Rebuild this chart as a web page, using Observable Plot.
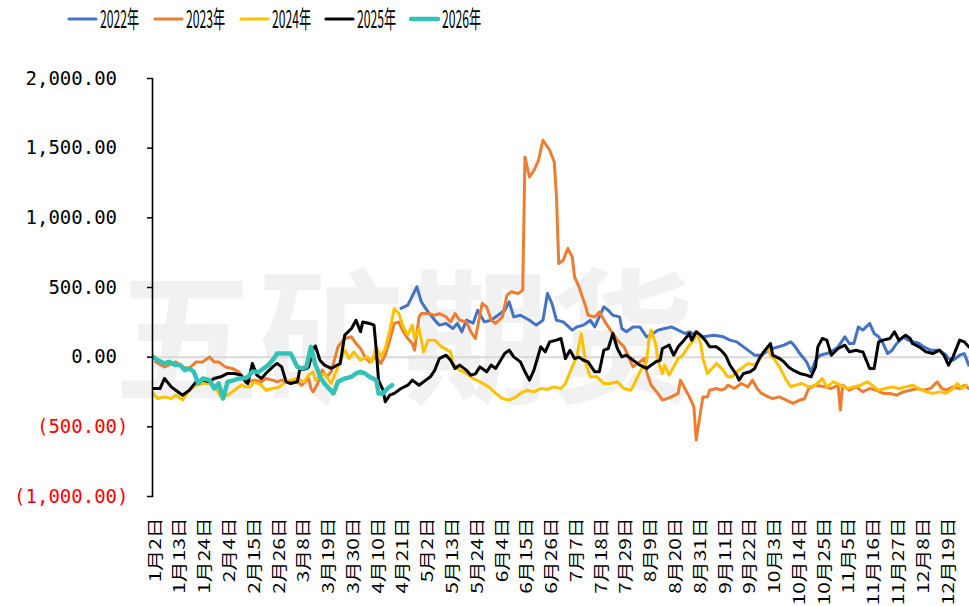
<!DOCTYPE html>
<html><head><meta charset="utf-8">
<script src="https://cdn.jsdelivr.net/npm/d3@7"></script>
<script src="https://cdn.jsdelivr.net/npm/@observablehq/plot@0.6"></script>
<style>
body{margin:0;background:#fff;}
#chart svg{display:block;}
g[aria-label="y-axis tick label"]{font-family:"DejaVu Sans Mono",monospace;}
</style></head><body>
<div id="chart"></div>
<script>
// ---- data ----
const seriesNames = ["2022年","2023年","2024年","2025年","2026年"];
const seriesColors = ["#4472C4","#ED7D31","#FFC000","#000000","#33C2B5"];
const seriesWidths = [3,3,3,3,4.5];

// day-of-year positions (leap-year calendar) of x tick labels
const xTickDays = [2,13,24,35,46,57,68,79,90,101,112,123,134,145,156,167,178,189,200,211,222,233,244,255,266,277,288,299,310,321,332,343,354];
const xTickLabels = ["1月2日","1月13日","1月24日","2月4日","2月15日","2月26日","3月8日","3月19日","3月30日","4月10日","4月21日","5月2日","5月13日","5月24日","6月4日","6月15日","6月26日","7月7日","7月18日","7月29日","8月9日","8月20日","8月31日","9月11日","9月22日","10月3日","10月14日","10月25日","11月5日","11月16日","11月27日","12月8日","12月19日"];
const yTicks = [-1000,-500,0,500,1000,1500,2000];

const days2022 = [111,114,118,120,123,126,128,131,134,136,138,140,143,145,148,151,154,157,159,161,164,168,171,174,176,178,180,183,187,189,192,195,197,201,203,205,208,209,211,214,217,220,222,225,228,231,234,237,239,242,245,250,254,257,260,263,266,268,271,274,276,281,284,286,288,291,293,295,297,300,303,305,308,310,312,314,316,319,321,323,325,327,329,331,334,336,341,343,346,350,353,354,356,359,361,363];
const vals2022 = [350,373,505,397,325,265,230,242,206,242,182,265,244,337,253,265,301,337,397,289,301,265,230,265,457,385,265,253,194,217,230,265,217,361,337,301,289,206,182,217,217,146,158,194,206,217,194,170,182,158,146,158,146,122,110,74,38,14,14,50,62,86,110,74,26,-34,-105,-22,14,26,50,74,146,98,98,217,194,242,170,146,98,26,50,98,146,122,98,74,50,50,14,-10,-22,14,26,-57];

const days2023 = [2,6,11,14,17,20,23,26,28,30,33,36,39,41,43,46,49,51,54,56,58,61,64,67,70,71,72,74,76,78,80,83,86,89,91,93,95,97,100,102,104,106,108,110,112,114,116,117,119,120,123,126,128,131,133,135,137,140,142,144,147,149,151,153,156,158,160,163,165,166,168,170,172,174,177,179,180,181,183,185,187,188,190,191,193,194,197,199,202,204,207,210,212,214,216,219,220,222,225,227,229,231,234,235,237,239,241,242,245,247,248,251,253,255,256,259,262,265,267,269,271,274,276,279,282,285,288,290,292,295,299,302,305,306,307,310,313,316,319,322,325,328,331,334,337,340,343,346,349,351,353,356,359,361,363];
const vals2023 = [-34,-70,-34,-70,-81,-34,-34,2,-34,-34,-70,-81,-105,-153,-177,-165,-177,-153,-165,-177,-165,-177,-165,-201,-153,-225,-249,-189,-93,-141,-105,74,134,146,98,62,2,-34,2,-45,14,122,242,253,182,134,98,50,289,313,313,301,313,289,253,313,265,253,182,134,385,361,265,242,289,445,469,457,481,1437,1293,1341,1413,1557,1485,1401,1150,672,696,780,720,576,504,457,361,301,289,325,242,194,122,74,2,-70,-45,-10,-105,-201,-260,-308,-297,-285,-260,-165,-225,-285,-357,-595,-285,-285,-237,-225,-237,-225,-201,-225,-189,-213,-165,-225,-260,-285,-297,-285,-308,-332,-308,-300,-225,-201,-213,-225,-201,-380,-201,-237,-213,-249,-225,-237,-260,-260,-273,-249,-237,-225,-237,-225,-177,-225,-237,-213,-225,-201,-225];

const days2024 = [1,3,6,9,11,14,17,20,23,26,28,31,34,37,40,42,44,46,49,51,54,57,60,62,65,68,70,72,73,75,77,80,83,86,88,90,93,96,98,100,102,104,106,108,110,112,114,116,117,119,121,123,126,129,133,134,137,140,143,146,150,153,156,159,162,164,167,170,173,176,179,182,184,187,189,191,193,195,198,201,204,207,210,213,215,217,220,221,222,224,225,227,228,230,234,236,239,241,242,244,245,247,249,251,254,256,258,260,263,265,268,270,272,274,275,277,279,282,284,286,289,292,295,298,300,303,306,309,312,315,318,321,323,326,329,332,335,338,341,344,347,350,353,356,358,360,362];
const vals2024 = [-260,-297,-285,-297,-273,-308,-237,-201,-189,-189,-201,-285,-273,-237,-201,-213,-213,-177,-201,-237,-225,-213,-177,-165,-153,-177,-129,-105,-165,-141,-117,-189,-70,50,-10,38,-22,2,-34,74,2,62,194,349,313,217,160,230,134,206,38,122,122,74,38,-45,-93,-117,-153,-177,-213,-260,-297,-308,-285,-260,-237,-249,-225,-230,-213,-225,-189,-70,2,170,-45,-141,-141,-189,-189,-177,-225,-237,-177,-105,-34,122,194,98,-22,-117,-57,-129,-10,14,86,122,182,98,-10,-117,-81,-45,-93,-141,-141,-105,-70,-45,-57,-22,38,62,14,-22,-70,-165,-213,-201,-189,-213,-201,-153,-213,-177,-201,-225,-213,-201,-177,-213,-237,-225,-213,-225,-213,-201,-225,-249,-260,-249,-260,-225,-189,-225,-201];

const days2025 = [1,4,6,9,11,14,17,20,23,26,28,31,34,37,40,42,43,45,47,49,51,54,56,58,60,62,65,66,69,70,72,73,75,77,80,84,86,89,91,93,94,97,99,100,101,103,104,106,108,111,114,116,119,122,124,126,128,131,133,135,137,140,142,144,146,149,151,153,157,159,161,164,166,168,170,173,175,177,180,182,184,186,188,190,192,194,197,199,201,203,205,207,209,211,213,215,217,220,222,224,226,227,230,232,234,236,239,240,242,244,246,248,251,253,255,257,260,261,263,266,268,270,272,275,276,279,281,283,285,288,291,293,295,296,298,300,302,305,308,310,313,315,316,319,321,323,325,328,330,332,335,337,338,341,344,347,350,352,354,356,359,361,363];
const vals2025 = [-225,-225,-153,-213,-237,-273,-237,-177,-165,-177,-153,-141,-117,-117,-129,-177,-189,-45,-129,-153,-117,-70,-45,-70,-177,-189,-177,-93,-81,-70,60,80,-22,-57,-81,-45,158,206,265,182,253,242,230,50,-165,-237,-320,-273,-260,-225,-201,-165,-201,-165,-141,-93,-10,14,-22,-81,-57,-93,-129,-120,-70,-105,-57,-81,26,50,2,-34,-105,-165,-93,74,38,110,122,134,-10,50,-10,0,-22,-34,-105,-105,50,62,170,62,2,14,-10,-34,-57,-81,-57,-34,-22,62,86,14,74,110,170,122,182,158,122,74,74,50,14,-57,-129,-165,-117,-105,-81,-10,38,98,14,-10,-34,-70,-93,-117,-129,-141,-70,74,134,122,14,62,86,38,50,40,38,-81,-81,110,122,134,182,122,158,134,98,74,38,26,50,14,-57,2,122,110,74];

const days2026 = [1,3,6,8,11,13,15,17,19,21,23,26,28,30,32,34,37,39,41,43,45,48,50,52,54,56,58,61,62,65,67,69,71,73,74,75,77,79,81,83,86,89,91,93,95,97,100,101,103,105,107];
const vals2026 = [2,-22,-45,-34,-57,-57,-93,-81,-105,-189,-153,-165,-225,-189,-297,-177,-165,-153,-153,-141,-105,-105,-81,-57,-22,26,26,26,26,-70,-81,-70,74,-57,-93,-141,-189,-225,-260,-177,-153,-141,-117,-105,-117,-141,-165,-260,-260,-225,-201];

const seriesDays = [days2022, days2023, days2024, days2025, days2026];
const seriesVals = [vals2022, vals2023, vals2024, vals2025, vals2026];

// ---- chart ----
const fmtNum = d3.format(",.2f");
const yFmt = v => v < 0 ? `(${fmtNum(-v)})` : fmtNum(v) + "\u00a0";
const xFmt = d => xTickLabels[xTickDays.indexOf(d)];

const lineMarks = seriesNames.map((name, i) =>
  Plot.line(seriesDays[i].map((d, j) => ({day: d, value: seriesVals[i][j], series: name})),
    {x: "day", y: "value", stroke: seriesColors[i], strokeWidth: seriesWidths[i],
     strokeLinejoin: "round", strokeLinecap: "round", clip: true})
);

const chart = Plot.plot({
  width: 969,
  height: 566,
  marginTop: 38,
  marginBottom: 110,
  marginLeft: 152,
  marginRight: 0,
  style: {fontFamily: "'Noto Sans CJK SC', sans-serif", background: "white", color: "#000"},
  x: {type: "linear", domain: [0.668, 363.33], label: null},
  y: {domain: [-1000, 2000], label: null},
  marks: [
    Plot.ruleY([0], {stroke: "#d9d9d9", strokeWidth: 2}),
    ...lineMarks,
    Plot.frame({anchor: "left", stroke: "#000", strokeWidth: 1.6}),
    Plot.axisY(yTicks.filter(v => v >= 0), {label: null, tickSize: 5, tickPadding: 19, tickFormat: yFmt, fontSize: 19, stroke: "#000", fill: "#000", strokeWidth: 1.5}),
    Plot.axisY(yTicks.filter(v => v < 0), {label: null, tickSize: 5, tickPadding: 19, tickFormat: yFmt, fontSize: 19, stroke: "#000", fill: "#FF0000", strokeWidth: 1.5}),
    Plot.axisX(xTickDays, {label: null, anchor: "bottom", tickSize: 0, tickPadding: 21, tickRotate: -90, tickFormat: xFmt, fontSize: 16, fill: "#000"})
  ]
});

// legend (above the svg)
const legend = d3.create("svg").attr("width", 969).attr("height", 40).style("display", "block");
const legendX = [68, 154, 240, 325, 410];
seriesNames.forEach((name, i) => {
  legend.append("line")
    .attr("x1", legendX[i] + 1).attr("x2", legendX[i] + 28)
    .attr("y1", 19).attr("y2", 19)
    .attr("stroke", seriesColors[i]).attr("stroke-width", i === 4 ? 4.5 : 3.2)
    .attr("stroke-linecap", "round");
  legend.append("text")
    .attr("x", legendX[i] + 32).attr("y", 19).attr("dy", "0.36em")
    .attr("font-family", "'Noto Sans CJK SC', sans-serif").attr("font-size", 24)
    .attr("textLength", 39).attr("lengthAdjust", "spacingAndGlyphs")
    .attr("fill", "#000")
    .text(name);
});

const container = document.getElementById("chart");
container.append(legend.node(), chart);

// watermark behind marks
d3.select(chart).insert("text", "g")
  .attr("x", 114).attr("y", 352)
  .attr("text-anchor", "start")
  .attr("font-family", "'Noto Sans CJK SC', sans-serif")
  .attr("font-size", 145).attr("font-weight", 700)
  .attr("fill", "#f1f1f1")
  .text("五矿期货");

// stretch rotated x labels lengthwise
chart.querySelectorAll('g[aria-label="x-axis tick label"] text').forEach(t => {
  const L = t.getComputedTextLength();
  t.setAttribute("textLength", (L * 1.3).toFixed(1));
  t.setAttribute("lengthAdjust", "spacingAndGlyphs");
});
</script>
</body></html>
